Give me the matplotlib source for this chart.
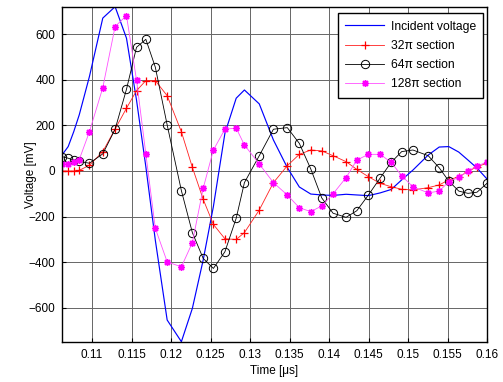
import numpy as np
import matplotlib
matplotlib.use("Agg")
import matplotlib.pyplot as plt

# sample times [us], shared by all four traces
time_us = [0.1062, 0.10698, 0.10768, 0.10838, 0.10967, 0.11136, 0.11292, 0.11436,
           0.11563, 0.11681, 0.11801, 0.11951, 0.12131, 0.12270, 0.12407, 0.12536,
           0.12682, 0.12825, 0.12929, 0.13117, 0.13296, 0.13472, 0.13624, 0.13769,
           0.13908, 0.14051, 0.14216, 0.14352, 0.14499, 0.14647, 0.14787, 0.14920,
           0.15062, 0.15256, 0.15395, 0.15516, 0.15642, 0.15759, 0.15873, 0.16]

incident = [70, 107, 172, 246, 414, 670, 720, 582, 311, 19, -303, -653, -748, -602,
            -390, -156, 165, 319, 355, 294, 136, 15, -70, -101, -105, -107, -102, -105,
            -108, -96, -81, -39, 4, 70, 105, 107, 83, 48, 13, -35]

sec_32pi = [0, 0, 0, 3, 25, 85, 184, 275, 352, 396, 396, 330, 172, 16, -124, -234,
            -297, -300, -270, -171, -51, 23, 73, 92, 88, 67, 41, 7, -25, -54, -69, -80,
            -83, -73, -61, -39, -25, -3, 19, 34]

sec_64pi = [63, 56, 48, 42, 34, 75, 183, 358, 542, 577, 455, 202, -86, -270, -383,
            -427, -354, -207, -51, 67, 183, 190, 121, 9, -118, -185, -203, -174, -105,
            -31, 38, 85, 92, 67, 14, -44, -88, -98, -93, -54]

sec_128pi = [31, 31, 38, 50, 172, 365, 633, 681, 399, 75, -251, -398, -420, -314, -76,
             92, 183, 188, 114, 31, -51, -105, -161, -178, -153, -100, -29, 48, 73, 73,
             38, -21, -69, -96, -88, -47, -28, 0, 22, 39]

x_ticks = [0.11, 0.115, 0.12, 0.125, 0.13, 0.135, 0.14, 0.145, 0.15, 0.155, 0.16]
x_labels = ["0.11", "0.115", "0.12", "0.125", "0.13", "0.135", "0.14", "0.145",
            "0.15", "0.155", "0.16"]
y_ticks = [-600, -400, -200, 0, 200, 400, 600]

plt.rcParams['font.family'] = ['Liberation Sans', 'DejaVu Sans']
plt.rcParams['font.size'] = 8.5

fig = plt.figure(figsize=(5.03, 3.82), dpi=100)
ax = fig.add_axes([0.1233, 0.1055, 0.8449, 0.877])

ax.plot(time_us, incident, color='#0000ff', lw=0.85, label='Incident voltage')
ax.plot(time_us, sec_32pi, color='#ff2020', lw=0.6, marker='+', ms=6, mew=0.9,
        mec='#ff0000', label='32\u03c0 section')
ax.plot(time_us, sec_64pi, color='black', lw=0.6, marker='o', ms=6, mfc='none',
        mew=0.7, label='64\u03c0 section')
ax.plot(time_us, sec_128pi, color='#ff50ff', lw=0.6, marker=(8, 2, 0), ms=5, mew=1.0,
        mec='#ff00ff', label='128\u03c0 section')

ax.set_xlim(0.1062, 0.16)
ax.set_ylim(-748, 720)
ax.set_xticks(x_ticks)
ax.set_xticklabels(x_labels)
ax.set_yticks(y_ticks)
ax.grid(True, color='0.4', lw=0.7)
ax.set_axisbelow(True)
ax.tick_params(direction='in', length=3, labelsize=8.5, pad=5)
for s in ax.spines.values():
    s.set_linewidth(1.0)

ax.set_xlabel('Time [\u03bcs]', fontsize=8.5, labelpad=3)
ax.set_ylabel('Voltage [mV]', fontsize=8.5)
ax.yaxis.set_label_coords(-0.058, 0.5)

leg = ax.legend(loc='upper right', numpoints=1, fontsize=8.7, fancybox=False,
                edgecolor='black', framealpha=1, handlelength=3.2,
                handletextpad=0.55, borderpad=0.6, labelspacing=0.6,
                borderaxespad=0, bbox_to_anchor=(0.9906, 0.980))
leg.get_frame().set_linewidth(1.0)

fig.savefig('out.png', dpi=100)
